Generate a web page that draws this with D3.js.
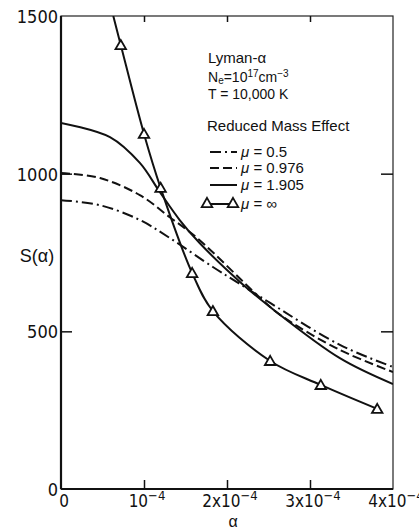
<!DOCTYPE html>
<html>
<head>
<meta charset="utf-8">
<script src="https://cdn.jsdelivr.net/npm/d3@7"></script>
<style>
  body { margin: 0; background: #fff; }
</style>
</head>
<body>
<script>
// alpha in units of 1e-4, S(alpha)
const alphaMu05 = [0, 0.47, 0.95, 1.31, 1.83, 2.12, 2.52, 3.36, 4.0];
const sMu05 = [916, 900, 853, 796, 704, 656, 590, 457, 387];

const alphaMu0976 = [0, 0.47, 0.95, 1.31, 1.64, 2.40, 2.64, 3.36, 4.0];
const sMu0976 = [1002, 986, 932, 862, 796, 606, 552, 441, 371];

const alphaMu1905 = [0, 0.59, 0.95, 1.19, 1.43, 1.67, 2.16, 2.52, 3.36, 4.0];
const sMu1905 = [1161, 1116, 1034, 942, 853, 780, 656, 577, 415, 333];

// mu = infinity: triangles, curve enters from the top of the frame
const alphaInf = [0.72, 1.0, 1.2, 1.58, 1.83, 2.52, 3.13, 3.81];
const sInf = [1408, 1126, 955, 685, 564, 406, 330, 254];
const infTopAlpha = 0.63;

const yTicks = [0, 500, 1000, 1500];
const xTicks = [0, 1, 2, 3, 4];
const xTickBase = ['0', '10', '2x10', '3x10', '4x10'];
const xTickExp = ['', '\u22124', '\u22124', '\u22124', '\u22124'];

const legendLabels = ['0.5', '0.976', '1.905', '\u221e'];
const legendDash = ['11,4,2,4', '9,4', null, null];

const width = 419, height = 529;
const narrow = '"Liberation Sans Narrow", "DejaVu Sans Condensed", sans-serif';
const plain = '"Liberation Sans", Arial, sans-serif';

const svg = d3.select('body').append('svg')
  .attr('width', width)
  .attr('height', height)
  .style('display', 'block');

const x = d3.scaleLinear().domain([0, 4]).range([61, 393]);
const y = d3.scaleLinear().domain([0, 1500]).range([489, 16]);

// frame
svg.append('rect')
  .attr('x', x(0)).attr('y', y(1500))
  .attr('width', x(4) - x(0)).attr('height', y(0) - y(1500))
  .attr('fill', 'none').attr('stroke', '#222').attr('stroke-width', 1.2);

svg.append('line')
  .attr('x1', x(0)).attr('x2', x(0)).attr('y1', y(0)).attr('y2', y(1500))
  .attr('stroke', '#111').attr('stroke-width', 2.2);
svg.append('line')
  .attr('x1', x(0)).attr('x2', x(4)).attr('y1', y(0)).attr('y2', y(0))
  .attr('stroke', '#111').attr('stroke-width', 1.8);

function ticks(axis, tx, ty) {
  const g = svg.append('g').attr('transform', `translate(${tx},${ty})`).call(axis);
  g.select('.domain').remove();
  g.selectAll('.tick line').attr('stroke', '#111').attr('stroke-width', 1.5);
  g.selectAll('.tick text').remove();
}
ticks(d3.axisLeft(y).tickValues([500, 1000]).tickSize(-11), x(0), 0);
ticks(d3.axisRight(y).tickValues([500, 1000]).tickSize(-12), x(4), 0);
ticks(d3.axisBottom(x).tickValues([1, 2, 3]).tickSize(-9), 0, y(0));
ticks(d3.axisTop(x).tickValues([1, 2, 3]).tickSize(-6), 0, y(1500));

// tick labels
svg.append('g').selectAll('text')
  .data(yTicks)
  .join('text')
  .attr('x', 58)
  .attr('y', d => y(d) + 7)
  .attr('text-anchor', 'end')
  .style('font-family', narrow)
  .style('font-size', '18px')
  .attr('fill', '#111')
  .text(d => d);

const xl = svg.append('g').selectAll('text')
  .data(xTicks)
  .join('text')
  .attr('x', d => x(d) + 3)
  .attr('y', 507)
  .attr('text-anchor', 'middle')
  .style('font-family', narrow)
  .style('font-size', '17px')
  .attr('fill', '#111');
xl.append('tspan').text((d, i) => xTickBase[i]);
xl.append('tspan').attr('dy', -7).style('font-size', '13px').text((d, i) => xTickExp[i]);

// axis titles
svg.append('text')
  .attr('x', 37).attr('y', 262)
  .attr('text-anchor', 'middle')
  .style('font-family', plain).style('font-size', '18px')
  .attr('fill', '#111')
  .text('S(\u03b1)');
svg.append('text')
  .attr('x', 233).attr('y', 527)
  .attr('text-anchor', 'middle')
  .style('font-family', plain).style('font-size', '16px')
  .attr('fill', '#111')
  .text('\u03b1');

// curves
const clipId = 'plotclip';
svg.append('clipPath').attr('id', clipId)
  .append('rect')
  .attr('x', x(0)).attr('y', y(1500))
  .attr('width', x(4) - x(0)).attr('height', y(0) - y(1500));

const line = d3.line()
  .x(d => x(d[0]))
  .y(d => y(d[1]))
  .curve(d3.curveCatmullRom.alpha(0.5));

const series = [
  { pts: d3.zip(alphaMu05, sMu05), dash: legendDash[0] },
  { pts: d3.zip(alphaMu0976, sMu0976), dash: legendDash[1] },
  { pts: d3.zip(alphaMu1905, sMu1905), dash: null },
  { pts: [[infTopAlpha, 1500]].concat(d3.zip(alphaInf, sInf)), dash: null }
];

const plot = svg.append('g').attr('clip-path', `url(#${clipId})`);
plot.selectAll('path.curve')
  .data(series)
  .join('path')
  .attr('class', 'curve')
  .attr('d', d => line(d.pts))
  .attr('fill', 'none')
  .attr('stroke', '#111')
  .attr('stroke-width', 2)
  .attr('stroke-dasharray', d => d.dash);

const tri = d3.symbol().type(d3.symbolTriangle).size(48);
svg.append('g').selectAll('path')
  .data(d3.zip(alphaInf, sInf))
  .join('path')
  .attr('transform', d => `translate(${x(d[0])},${y(d[1]) + 1})`)
  .attr('d', tri)
  .attr('fill', '#fff')
  .attr('stroke', '#111')
  .attr('stroke-width', 1.8);

// annotation block
const note = svg.append('g')
  .style('font-family', plain)
  .style('font-size', '15px')
  .attr('fill', '#111');

note.append('text').attr('x', 208).attr('y', 63).text('Lyman-\u03b1');

const ne = note.append('text').attr('x', 208).attr('y', 82).style('font-size', '14px');
ne.append('tspan').text('N');
ne.append('tspan').attr('dy', 2).style('font-size', '10px').text('e');
ne.append('tspan').attr('dy', -2).text('=10');
ne.append('tspan').attr('dy', -5).style('font-size', '10px').text('17');
ne.append('tspan').attr('dy', 5).text('cm');
ne.append('tspan').attr('dy', -5).style('font-size', '10px').text('\u22123');

note.append('text').attr('x', 208).attr('y', 99).style('font-size', '14px').text('T = 10,000 K');
note.append('text').attr('x', 207).attr('y', 131).text('Reduced Mass Effect');

const rowY = [152, 168, 185, 204];
legendLabels.forEach((lab, i) => {
  if (i < 3) {
    note.append('line')
      .attr('x1', 210).attr('x2', 237)
      .attr('y1', rowY[i]).attr('y2', rowY[i])
      .attr('stroke', '#111').attr('stroke-width', 2)
      .attr('stroke-dasharray', legendDash[i]);
  } else {
    note.append('line')
      .attr('x1', 207).attr('x2', 233)
      .attr('y1', rowY[i]).attr('y2', rowY[i])
      .attr('stroke', '#111').attr('stroke-width', 2);
    [207, 233].forEach(cx => {
      note.append('path')
        .attr('transform', `translate(${cx},${rowY[i]})`)
        .attr('d', tri)
        .attr('fill', '#fff')
        .attr('stroke', '#111')
        .attr('stroke-width', 1.8);
    });
  }
  const t = note.append('text').attr('x', 241).attr('y', rowY[i] + 5);
  t.append('tspan').style('font-style', 'italic').text('\u03bc');
  t.append('tspan').text(' = ' + lab);
});
</script>
</body>
</html>
